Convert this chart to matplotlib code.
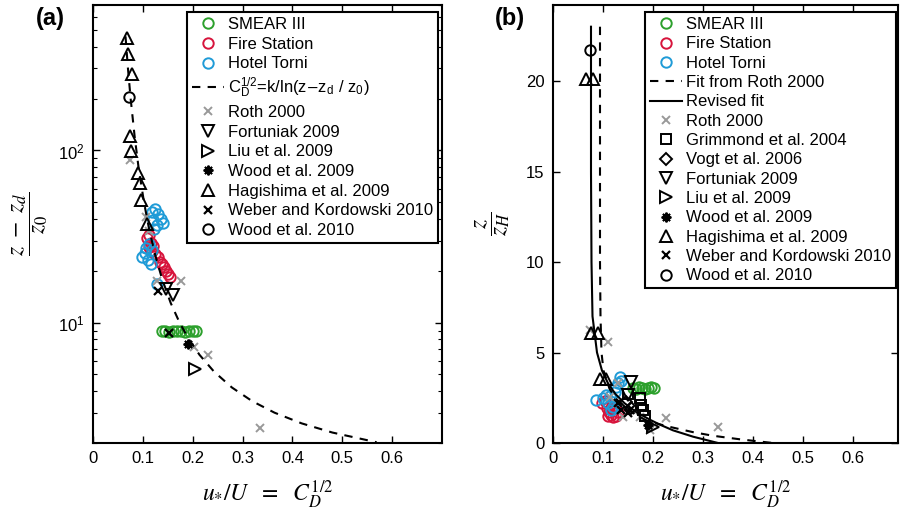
import numpy as np
import matplotlib
matplotlib.use("Agg")
import matplotlib.pyplot as plt
from matplotlib.ticker import LogLocator, NullFormatter, FixedLocator, FixedFormatter

plt.rcParams['font.family'] = ['Liberation Sans', 'DejaVu Sans']
plt.rcParams['mathtext.fontset'] = 'stix'

# ---------------- data: panel (a) ----------------
smear_a_x = [0.138, 0.145, 0.152, 0.160, 0.168, 0.176, 0.184, 0.192, 0.200, 0.207]
smear_a_y = [8.9, 8.9, 8.85, 8.95, 8.9, 8.9, 8.85, 8.9, 8.95, 8.9]
fire_a_x = [0.108, 0.112, 0.116, 0.112, 0.120, 0.118, 0.125, 0.130, 0.135, 0.138, 0.142, 0.146, 0.150, 0.154]
fire_a_y = [31, 32.5, 29, 27.5, 28, 26, 25, 24, 22.5, 21.8, 21, 20, 19.2, 18.4]
hotel_a_x = [0.118, 0.124, 0.130, 0.136, 0.140, 0.128, 0.120, 0.122, 0.098, 0.104, 0.110, 0.116, 0.106, 0.112, 0.118, 0.128]
hotel_a_y = [44, 46, 43, 40, 38, 37, 39.5, 35, 24, 25.5, 23, 22, 27, 28.5, 26.5, 16.8]
roth_a_x = [0.074, 0.107, 0.112, 0.128, 0.176, 0.203, 0.230, 0.334]
roth_a_y = [87.5, 41, 34, 17.5, 17.5, 7.2, 6.45, 2.45]
fortuniak_a_x = [0.146, 0.161]
fortuniak_a_y = [15.7, 14.4]
liu_a_x = [0.204]
liu_a_y = [5.4]
wood09_a_x = [0.19]
wood09_a_y = [7.5]
hagishima_a_x = [0.069, 0.071, 0.079, 0.075, 0.077, 0.091, 0.094, 0.097, 0.109]
hagishima_a_y = [452, 362, 277, 122, 99, 74, 64.7, 51.9, 37.3]
weber_a_x = [0.130, 0.152]
weber_a_y = [15.2, 8.7]
wood10_a_x = [0.073]
wood10_a_y = [205]
# fitted curve C_D^1/2 = k/ln((z-zd)/z0)
fit_a_y = [460, 300, 200, 120, 80, 50, 35, 25, 18, 13, 10, 8, 6.5, 5.2, 4.2, 3.5, 3.0, 2.6, 2.3, 2.02]
fit_a_x = [0.0652, 0.0701, 0.0755, 0.0836, 0.0913, 0.1023, 0.1125, 0.1243, 0.1384, 0.1559,
           0.1737, 0.1924, 0.2137, 0.2426, 0.2787, 0.3193, 0.3641, 0.4186, 0.4802, 0.5689]

# ---------------- data: panel (b) ----------------
smear_b_x = [0.160, 0.166, 0.172, 0.178, 0.184, 0.190, 0.196, 0.202]
smear_b_y = [3.05, 3.0, 3.1, 3.05, 3.0, 3.05, 3.1, 3.05]
fire_b_x = [0.098, 0.104, 0.108, 0.112, 0.116, 0.120, 0.126, 0.130, 0.110, 0.118, 0.124]
fire_b_y = [2.2, 2.3, 1.95, 1.7, 1.55, 1.45, 1.5, 1.7, 1.5, 1.9, 2.0]
hotel_b_x = [0.087, 0.100, 0.107, 0.114, 0.120, 0.127, 0.134, 0.137, 0.130, 0.124, 0.110, 0.117]
hotel_b_y = [2.38, 2.5, 2.65, 2.6, 2.0, 3.1, 3.66, 3.4, 3.3, 2.8, 2.2, 1.8]
roth_b_x = [0.074, 0.110, 0.114, 0.130, 0.140, 0.174, 0.194, 0.227, 0.330]
roth_b_y = [6.24, 5.6, 2.56, 3.3, 1.45, 1.45, 0.72, 1.36, 0.9]
grimmond_b_x = [0.150, 0.174, 0.177, 0.180, 0.184]
grimmond_b_y = [2.7, 2.47, 2.1, 1.82, 1.5]
vogt_b_x = [0.147, 0.157]
vogt_b_y = [2.25, 1.95]
fortuniak_b_x = [0.150, 0.157]
fortuniak_b_y = [2.65, 3.39]
liu_b_x = [0.20]
liu_b_y = [0.9]
wood09_b_x = [0.19]
wood09_b_y = [1.0]
hagishima_b_x = [0.067, 0.080, 0.077, 0.090, 0.094, 0.107]
hagishima_b_y = [20.1, 20.1, 6.06, 6.06, 3.55, 3.55]
weber_b_x = [0.130, 0.137, 0.150, 0.154]
weber_b_y = [2.19, 1.82, 1.64, 1.8]
wood10_b_x = [0.074]
wood10_b_y = [21.7]
rothfit_b_y = [23, 15, 10, 7, 5, 4, 3, 2.5, 2, 1.5, 1.2, 0.9, 0.6, 0.4, 0.2, 0.0]
rothfit_b_x = [0.094, 0.094, 0.094, 0.095, 0.097, 0.101, 0.113, 0.124, 0.143, 0.170, 0.190, 0.232, 0.280, 0.320, 0.375, 0.440]
revfit_b_y = [23, 15, 10, 7, 5, 4, 3.3, 2.7, 2.2, 1.7, 1.27, 1.0, 0.7, 0.35, 0.0]
revfit_b_x = [0.076, 0.076, 0.077, 0.079, 0.088, 0.098, 0.110, 0.125, 0.143, 0.167, 0.195, 0.215, 0.240, 0.280, 0.330]

GREEN = '#2ca02c'
RED = '#d7143c'
BLUE = '#1f9bd7'
GREY = '#999999'
MS = 7.5
MEW = 1.4
ASTER = (8, 2, 0)
XLAB = r'$u_{*}/U\ \ =\ \ C_D^{1/2}$'

W, H = 903, 516
fig = plt.figure(figsize=(W / 100, H / 100), dpi=100)
axa = fig.add_axes([93 / W, (H - 443) / H, 349 / W, 438 / H])
axb = fig.add_axes([553 / W, (H - 443) / H, 345 / W, 438 / H])


def mk(ax, x, y, marker, color, label, ms=MS, mew=MEW, z=3):
    return ax.plot(x, y, linestyle='none', marker=marker, mfc='none', mec=color,
                   ms=ms, mew=mew, label=label, zorder=z)[0]


def style_legend(ax, handles, anchor, spacing):
    leg = ax.legend(handles=handles, loc='upper right', bbox_to_anchor=anchor, borderaxespad=0,
                    fontsize=12, frameon=True, fancybox=False, edgecolor='k', framealpha=1,
                    handlelength=1.9, handletextpad=0.25, labelspacing=spacing, borderpad=0.3)
    leg.get_frame().set_linewidth(1.5)
    return leg


# ---- panel (a)
h = []
h.append(mk(axa, smear_a_x, smear_a_y, 'o', GREEN, 'SMEAR III'))
h.append(mk(axa, fire_a_x, fire_a_y, 'o', RED, 'Fire Station'))
h.append(mk(axa, hotel_a_x, hotel_a_y, 'o', BLUE, 'Hotel Torni'))
h.append(axa.plot(fit_a_x, fit_a_y, 'k--', lw=1.5, dashes=(4, 3.5),
                  label=r'$\mathregular{C_D^{1/2}}$=k/ln(z$-$z$_\mathregular{d}$ / z$_\mathregular{0}$)', zorder=4)[0])
h.append(mk(axa, roth_a_x, roth_a_y, 'x', GREY, 'Roth 2000', ms=6))
h.append(mk(axa, fortuniak_a_x, fortuniak_a_y, 'v', 'k', 'Fortuniak 2009', ms=9))
h.append(mk(axa, liu_a_x, liu_a_y, '>', 'k', 'Liu et al. 2009', ms=9))
h.append(mk(axa, wood09_a_x, wood09_a_y, ASTER, 'k', 'Wood et al. 2009', ms=7))
h.append(mk(axa, hagishima_a_x, hagishima_a_y, '^', 'k', 'Hagishima et al. 2009', ms=9))
h.append(mk(axa, weber_a_x, weber_a_y, 'x', 'k', 'Weber and Kordowski 2010', ms=6, mew=1.6))
h.append(mk(axa, wood10_a_x, wood10_a_y, 'o', 'k', 'Wood et al. 2010'))

axa.set_yscale('log')
axa.set_xlim(0, 0.7)
axa.set_ylim(2, 700)
axa.set_xticks([0, 0.1, 0.2, 0.3, 0.4, 0.5, 0.6])
axa.set_xticklabels(['0', '0.1', '0.2', '0.3', '0.4', '0.5', '0.6'])
axa.yaxis.set_major_locator(FixedLocator([10, 100]))
axa.yaxis.set_major_formatter(FixedFormatter([r'$\mathregular{10^1}$', r'$\mathregular{10^2}$']))
axa.yaxis.set_minor_locator(LogLocator(base=10, subs=np.arange(2, 10), numticks=20))
axa.yaxis.set_minor_formatter(NullFormatter())
axa.set_xlabel(XLAB, fontsize=17, labelpad=9)
axa.set_ylabel(r'$\dfrac{z\ -\ z_d}{z_0}$', fontsize=17, labelpad=6)
style_legend(axa, h, (0.989, 0.984), 0.28)

# ---- panel (b)
h = []
h.append(mk(axb, smear_b_x, smear_b_y, 'o', GREEN, 'SMEAR III'))
h.append(mk(axb, fire_b_x, fire_b_y, 'o', RED, 'Fire Station'))
h.append(mk(axb, hotel_b_x, hotel_b_y, 'o', BLUE, 'Hotel Torni'))
h.append(axb.plot(rothfit_b_x, rothfit_b_y, 'k--', lw=1.5, dashes=(4, 3.5), label='Fit from Roth 2000', zorder=4)[0])
h.append(axb.plot(revfit_b_x, revfit_b_y, 'k-', lw=1.5, label='Revised fit', zorder=4)[0])
h.append(mk(axb, roth_b_x, roth_b_y, 'x', GREY, 'Roth 2000', ms=6))
h.append(mk(axb, grimmond_b_x, grimmond_b_y, 's', 'k', 'Grimmond et al. 2004', ms=7))
h.append(mk(axb, vogt_b_x, vogt_b_y, 'D', 'k', 'Vogt et al. 2006', ms=6.5))
h.append(mk(axb, fortuniak_b_x, fortuniak_b_y, 'v', 'k', 'Fortuniak 2009', ms=9))
h.append(mk(axb, liu_b_x, liu_b_y, '>', 'k', 'Liu et al. 2009', ms=9))
h.append(mk(axb, wood09_b_x, wood09_b_y, ASTER, 'k', 'Wood et al. 2009', ms=7))
h.append(mk(axb, hagishima_b_x, hagishima_b_y, '^', 'k', 'Hagishima et al. 2009', ms=9))
h.append(mk(axb, weber_b_x, weber_b_y, 'x', 'k', 'Weber and Kordowski 2010', ms=6, mew=1.6))
h.append(mk(axb, wood10_b_x, wood10_b_y, 'o', 'k', 'Wood et al. 2010'))

axb.set_xlim(0, 0.69)
axb.set_ylim(0, 24.2)
axb.set_xticks([0, 0.1, 0.2, 0.3, 0.4, 0.5, 0.6])
axb.set_xticklabels(['0', '0.1', '0.2', '0.3', '0.4', '0.5', '0.6'])
axb.set_yticks([0, 5, 10, 15, 20])
axb.set_xlabel(XLAB, fontsize=17, labelpad=9)
axb.set_ylabel(r'$\dfrac{z}{z_H}$', fontsize=17, labelpad=10)
style_legend(axb, h, (0.995, 0.984), 0.26)

for ax in (axa, axb):
    for s in ax.spines.values():
        s.set_linewidth(1.5)
    ax.tick_params(which='major', direction='in', top=True, right=True, length=5, width=1.0,
                   labelsize=12, pad=6)
    ax.tick_params(which='minor', direction='in', top=True, right=True, length=3, width=0.8)

fig.text(50 / W, 1 - 18 / H, '(a)', fontsize=17, fontweight='bold', ha='center', va='center')
fig.text(510 / W, 1 - 18 / H, '(b)', fontsize=17, fontweight='bold', ha='center', va='center')

fig.savefig('out.png', dpi=100)
